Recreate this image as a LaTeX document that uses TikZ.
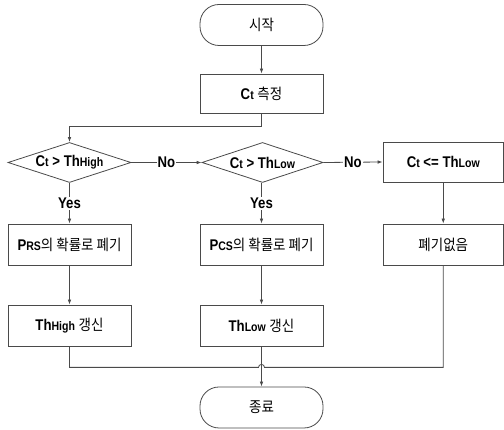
\documentclass[tikz,border=0pt]{standalone}
\usepackage{fontspec}
\setmainfont{Liberation Sans}[FakeStretch=0.85]
\newfontfamily\kr{Noto Sans CJK KR}[FakeStretch=0.9]
\usetikzlibrary{shapes.geometric,arrows.meta,calc}
\newcommand\sm[1]{{\fontsize{12.4}{13}\selectfont #1}}
\newcommand\ko[1]{{\mdseries\kr\fontsize{15}{16}\selectfont #1}}
\definecolor{linec}{HTML}{4A4A4A}
\begin{document}
\begin{tikzpicture}[x=1pt,y=1pt,line width=0.8pt,
  txt/.style={font=\fontsize{15.5}{17}\selectfont\bfseries, text=black},
  box/.style={txt, draw=linec, rectangle, minimum width=123pt, minimum height=41pt, inner sep=0pt},
  term/.style={box, rounded corners=19pt},
  dia/.style={draw=linec, diamond, minimum width=123pt, minimum height=40pt, inner sep=0pt},
  ln/.style={draw=linec},
  arr/.style={draw=linec, -{Latex[length=5pt,width=3.6pt]}},
  lab/.style={txt, fill=white, inner sep=1.2pt}]
\useasboundingbox (0,0) rectangle (504,430);

\node[term] (start) at (261.5,405) {\ko{시작}};
\node[box, minimum height=39pt] (meas) at (261.5,336.5) {C\sm{t} \ko{측정}};

\node[dia] (d1) at (69.5,267.5) {};
\node[txt] (d1t) at (d1) {C\sm{t} > Th\sm{High}};
\node[dia, minimum width=121pt] (d2) at (262.5,267.5) {};
\node[txt] (d2t) at (d2) {C\sm{t} > Th\sm{Low}};
\node[box, minimum width=120.5pt, minimum height=40pt] (b3) at (443.25,268) {C\sm{t} <= Th\sm{Low}};

\node[box] (r2a) at (69.5,185.5) {P\sm{RS}\ko{의 확률로 폐기}};
\node[box] (r2b) at (261.5,185.5) {P\sm{CS}\ko{의 확률로 폐기}};
\node[box, minimum width=120.5pt] (r2c) at (443.25,185.5) {\ko{폐기없음}};

\node[box] (r3a) at (69.5,104.5) {Th\sm{High} \ko{갱신}};
\node[box] (r3b) at (261.5,104.5) {Th\sm{Low} \ko{갱신}};

\node[term] (endt) at (261.5,22.5) {\ko{종료}};

\draw[arr] (start.south) -- (meas.north);
\draw[arr] (meas.south) -- ++(0,-13) -| (d1.north);
\draw[arr] (d1.east) -- node[lab] {No} (d2.west);
\draw[arr] (d2.east) -- node[lab] {No} (b3.west);
\draw[arr] (d1.south) -- node[lab] {Yes} (r2a.north);
\draw[arr] (d2.south -| r2b.north) -- node[lab] {Yes} (r2b.north);
\draw[arr] (b3.south) -- (r2c.north);
\draw[arr] (r2a.south) -- (r3a.north);
\draw[arr] (r2b.south) -- (r3b.north);

\coordinate (j) at ($(r3b.south)+(0,-21)$);
\draw[ln] (r3a.south) |- ([xshift=-3pt]j) arc[start angle=180,end angle=0,radius=3pt] -| (r2c.south);
\draw[arr] (r3b.south) -- (endt.north);
\end{tikzpicture}
\end{document}
